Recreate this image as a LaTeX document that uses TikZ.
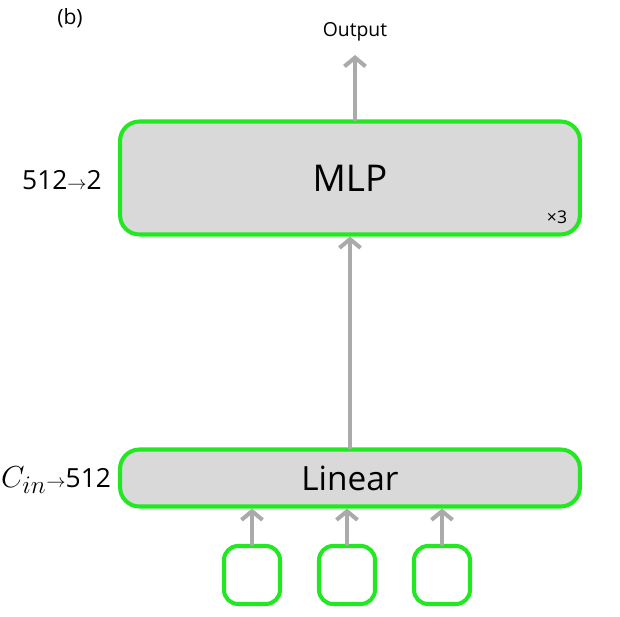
\documentclass[tikz,border=0pt]{standalone}
\usepackage{fontspec}
\setmainfont{Open Sans}
\usetikzlibrary{positioning,calc,arrows.meta}
\definecolor{boxgreen}{RGB}{34,232,34}
\definecolor{boxgray}{RGB}{217,217,217}
\definecolor{arrgray}{RGB}{170,170,170}
\tikzset{
    block/.style={draw=boxgreen, line width=2.3pt, fill=boxgray, rounded corners=11pt, minimum width=9.2cm, inner sep=0pt},
    inbox/.style={draw=boxgreen, line width=2.3pt, fill=white, rounded corners=8pt, minimum width=1.12cm, minimum height=1.16cm},
    arr/.style={arrgray, line width=2.3pt, line cap=round, -{Straight Barb[length=5pt,width=12pt]}}
}

\begin{document}
\begin{tikzpicture}[x=0.02cm, y=-0.02cm]
    \useasboundingbox (0,0) rectangle (620,617);
    \node (tag) at (70,18) {\fontsize{12}{14}\selectfont (b)};

    % blocks
    \node[block, minimum height=2.26cm] (mlp) at (350,178) {\fontsize{21}{25}\selectfont MLP};
    \node[block, minimum height=1.14cm] (linear) at (350,478) {\fontsize{19}{22}\selectfont Linear};
    \node (rep) at (557,217) {\fontsize{10}{12}\selectfont ×3};

    % dimensions
    \node (mlpdim) at (62,180) {\fontsize{15}{18}\selectfont 512$\scriptstyle\rightarrow$2};
    \node (lindim) at (56,480) {\fontsize{15}{18}\selectfont {\fontsize{19}{22}\selectfont$C_{in}$}$\scriptstyle\rightarrow$512};

    % inputs
    \node[inbox] (in1) at (252,575) {};
    \node[inbox] (in2) at (347,575) {};
    \node[inbox] (in3) at (442,575) {};

    % output
    \node (out) at (355,32) {\fontsize{11}{13}\selectfont Output};
    \coordinate (outtip) at (355,55);

    % arrows
    \draw[arr] (mlp.north -| outtip) -- (outtip);
    \draw[arr] (linear.north) -- (mlp.south);
    \foreach \i in {1,2,3}
        \draw[arr] (in\i.north) -- (in\i.north |- linear.south);
\end{tikzpicture}
\end{document}
